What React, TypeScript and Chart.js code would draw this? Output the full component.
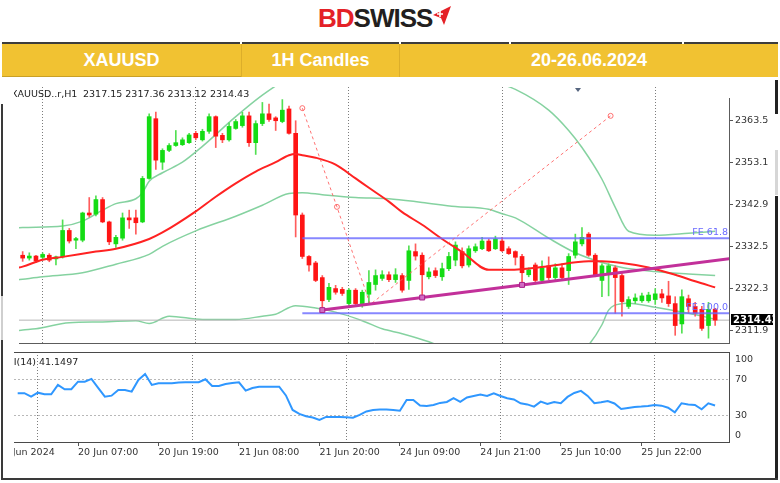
import React, { useEffect, useRef } from 'react';
import { Chart, registerables } from 'chart.js';

Chart.register(...registerables);

// ---------------- data ----------------
const SYMBOL = 'XAUUSD..r,H1';
const HEADER_CELLS = ['XAUUSD', '1H Candles', '20-26.06.2024'];

const OPEN = [2330.4,2329.7,2330.2,2329.9,2330.4,2329.5,2330.0,2336.5,2334.1,2334.1,
2340.8,2340.5,2344.1,2338.6,2333.2,2334.6,2339.6,2339.6,2338.6,2349.3,
2364.0,2353.3,2356.2,2357.4,2357.6,2358.1,2360.4,2358.8,2360.9,2364.5,
2359.9,2358.8,2361.6,2362.3,2364.7,2358.1,2362.8,2365.2,2364.2,2363.3,
2366.4,2360.4,2340.3,2330.1,2328.5,2324.9,2319.5,2322.2,2322.0,2318.5,
2321.8,2318.5,2320.8,2323.2,2324.7,2325.6,2324.4,2325.4,2324.2,2331.3,
2330.4,2325.1,2326.6,2325.1,2327.1,2329.2,2331.3,2328.0,2331.5,2332.0,
2333.9,2332.0,2333.9,2332.0,2331.3,2330.1,2325.6,2328.0,2324.2,2327.8,
2324.9,2327.3,2326.6,2330.4,2333.2,2335.6,2330.4,2324.2,2326.1,2327.3,
2325.4,2317.8,2319.2,2319.2,2319.2,2319.5,2320.9,2320.4,2318.5,2313.5,
2319.7,2317.8,2317.1,2313.1,2317.15];

const HIGH = [2331.3,2331.0,2330.4,2331.0,2330.8,2330.2,2339.1,2337.0,2334.8,2341.0,
2344.6,2345.0,2344.6,2338.8,2335.3,2340.8,2341.5,2341.5,2349.8,2365.2,
2365.6,2356.6,2357.9,2361.1,2359.3,2360.4,2360.9,2361.4,2365.2,2364.7,
2360.4,2363.0,2363.8,2365.6,2365.6,2363.5,2368.0,2367.6,2364.5,2368.7,
2367.1,2363.5,2340.8,2330.3,2328.9,2325.4,2323.5,2323.0,2322.5,2322.2,
2322.2,2321.8,2326.6,2326.8,2326.6,2326.3,2327.1,2325.9,2332.7,2333.2,
2331.0,2327.3,2327.3,2328.5,2331.1,2333.7,2332.2,2332.7,2333.2,2334.8,
2334.4,2335.1,2334.8,2332.5,2331.5,2330.6,2327.3,2328.5,2329.0,2330.0,
2328.3,2328.3,2330.8,2335.6,2337.2,2336.0,2330.8,2328.3,2328.3,2327.8,
2325.9,2320.2,2320.9,2321.1,2321.3,2322.2,2322.0,2324.0,2320.2,2321.9,
2320.6,2318.8,2317.8,2318.8,2317.36];

const LOW = [2328.9,2329.2,2328.6,2329.5,2328.8,2328.0,2329.7,2333.4,2332.0,2333.7,
2339.8,2340.1,2338.4,2333.0,2332.3,2334.1,2337.0,2335.6,2338.4,2349.1,
2351.5,2351.5,2355.9,2357.2,2357.4,2357.9,2358.8,2358.5,2360.4,2356.9,
2358.1,2358.5,2361.4,2361.9,2357.2,2355.2,2362.3,2363.3,2361.1,2363.0,
2360.2,2334.9,2329.6,2326.5,2323.9,2316.9,2319.0,2320.8,2320.5,2318.0,
2317.8,2317.6,2318.3,2321.8,2324.2,2323.9,2323.7,2321.3,2322.0,2329.2,
2320.2,2324.6,2324.9,2324.2,2326.6,2327.8,2327.3,2327.5,2331.1,2331.8,
2331.3,2331.8,2331.3,2330.6,2328.0,2323.3,2325.1,2323.3,2323.9,2324.4,
2324.4,2324.4,2323.2,2329.7,2332.7,2330.1,2325.1,2320.2,2320.4,2316.1,
2315.4,2317.3,2318.5,2318.8,2318.8,2318.3,2318.8,2317.8,2310.7,2311.2,
2316.1,2315.4,2311.9,2310.0,2313.12];

const CLOSE = [2329.7,2330.2,2329.0,2330.6,2329.2,2330.0,2336.5,2333.9,2334.5,2340.8,
2340.3,2344.1,2338.6,2333.7,2334.8,2339.6,2339.1,2338.4,2349.3,2364.5,
2353.8,2356.2,2357.4,2358.1,2358.8,2360.0,2359.3,2360.9,2364.5,2359.7,
2358.8,2362.1,2363.3,2364.7,2358.1,2362.8,2365.2,2363.8,2363.5,2366.1,
2360.4,2340.3,2330.1,2328.0,2324.2,2319.2,2322.5,2321.3,2321.0,2321.8,
2318.5,2321.3,2323.7,2325.4,2325.6,2324.4,2325.6,2321.8,2331.5,2330.2,
2325.6,2326.3,2325.4,2327.1,2330.1,2332.9,2327.8,2332.0,2332.5,2333.9,
2331.5,2334.4,2331.5,2330.8,2329.9,2326.1,2326.8,2324.2,2327.3,2324.9,
2327.3,2324.9,2330.1,2333.7,2334.8,2330.4,2325.4,2327.8,2327.8,2324.9,
2319.0,2319.5,2319.9,2320.4,2320.6,2320.9,2319.9,2318.5,2313.1,2320.2,
2317.8,2316.1,2312.4,2317.1,2314.43];

const RSI_PERIOD = 14;
const RSI14 = [55.0,55.0,51.1,55.6,53.8,53.8,64.4,59.5,59.5,68.1,
68.1,71.2,61.0,51.1,52.2,58.7,58.7,56.8,70.0,76.8,
64.4,66.3,66.3,66.3,67.2,67.4,67.4,67.4,70.8,63.2,
63.2,65.5,66.6,67.4,57.9,60.9,62.4,62.4,62.4,62.4,
52.5,36.0,31.5,28.9,27.5,24.7,28.1,28.1,28.1,27.8,
27.3,30.4,34.3,36.0,36.4,36.4,36.0,35.2,47.4,47.4,
41.1,40.6,41.7,44.0,45.1,49.3,45.1,50.2,51.9,53.4,
51.9,55.0,51.9,49.3,47.9,43.6,42.3,39.8,45.4,42.8,
45.1,43.6,50.8,55.3,57.6,51.9,43.6,44.8,46.2,43.4,
37.2,38.3,39.4,39.8,40.6,41.7,40.9,38.6,33.4,43.6,
42.3,41.7,36.8,43.6,41.1497];

// indicator lines: [bar, price]
const MA_RED = [[-1,2327.2],[0,2327.6],[3,2329.3],[6,2330.0],[11,2331.3],[14,2332.0],[19,2334.4],[21,2336.0],
[26,2341.2],[29,2344.8],[32,2348.1],[35,2351.0],[38,2353.3],[40,2355.0],[41,2355.3],[42,2355.0],[44,2354.4],
[47,2352.7],[50,2349.3],[52,2347.0],[55,2343.6],[57,2341.0],[60,2337.9],[63,2334.4],[66,2331.2],[70,2326.8],
[73,2326.8],[79,2327.7],[85,2328.9],[87,2328.9],[90,2328.5],[94,2327.4],[98,2325.6],[101,2324.0],[104,2322.5]];

const BB_UPPER = [[-1,2337.1],[0,2337.2],[6,2337.6],[9,2338.8],[12,2341.5],[14,2343.1],[17,2344.3],[18,2345.8],
[19,2348.6],[21,2350.7],[24,2353.3],[27,2357.2],[32,2364.5],[36,2369.8],[40,2374.0],[45,2377.0],[50,2378.5],
[55,2379.0],[60,2378.0],[65,2376.0],[70,2373.5],[74,2371.2],[79,2366.1],[82,2361.1],[84,2356.9],[87,2349.1],
[89,2342.2],[91,2336.3],[95,2335.3],[100,2335.8],[104,2336.3]];

const BB_MIDDLE = [[-1,2324.3],[0,2324.5],[3,2325.1],[9,2326.1],[14,2328.2],[19,2330.6],[21,2332.6],[26,2336.4],
[32,2340.0],[36,2342.7],[40,2345.6],[42,2345.8],[45,2345.3],[50,2344.6],[55,2344.3],[60,2343.4],[65,2342.4],
[70,2341.7],[72,2340.6],[74,2339.6],[79,2334.6],[83,2331.0],[87,2328.6],[90,2327.4],[95,2326.4],[100,2325.8],[104,2325.4]];

const BB_LOWER = [[-1,2311.8],[0,2312.0],[2,2312.3],[7,2313.8],[12,2314.0],[17,2314.3],[19,2313.6],[22,2315.4],
[27,2314.6],[32,2314.6],[36,2315.4],[38,2315.9],[41,2318.0],[44,2317.4],[47,2316.4],[51,2314.3],[54,2312.3],
[57,2311.1],[61,2309.1],[65,2306.5],[70,2304.8],[76,2304.3],[81,2305.5],[84,2306.8],[85,2308.3],[87,2313.3],
[88,2316.9],[90,2318.5],[91,2318.6],[95,2317.6],[100,2316.1],[104,2314.7]];

const TRENDLINE = [[45,2316.9],[60,2320.0],[75,2323.1],[107,2329.7]];
const FIB_EXPANSION = [[42,2366.6],[47.2,2342.3],[52.2,2318.3],[88.3,2364.7]];
const FE_FROM_BAR = 42;
const FE_LEVELS: [string, number][] = [['FE 61.8', 2334.6], ['FE 100.0', 2316.1]];

const PRICE_TICKS = [2363.5, 2353.1, 2342.9, 2332.5, 2322.3, 2311.9];
const RSI_LEVELS = [70, 30];
const RSI_LABELS = [100, 70, 30, 0];
const TIME_TICK_BARS = [-3, 9, 21, 33, 45, 57, 69, 81, 93];
const TIME_TICK_LABELS = ['19 Jun 2024', '20 Jun 07:00', '20 Jun 19:00', '21 Jun 08:00', '21 Jun 20:00',
  '24 Jun 09:00', '24 Jun 21:00', '25 Jun 10:00', '25 Jun 22:00'];
const GRID_BARS = [3, 26, 49, 72, 95];
const SHIFT_MARK_BAR = 83.4;

// view ranges
const X_MIN = -0.55;
const X_MAX = 106.08;
const PRICE_MIN = 2308.56;
const PRICE_MAX = 2371.8;
const RSI_MIN = -0.3;
const RSI_MAX = 101.7;

// ---------------- styles ----------------
const FAMILY = '"DejaVu Sans", Verdana, sans-serif';
const FONT = `9.5px ${FAMILY}`;
const BULL = '#14DC14';
const BEAR = '#FF1414';
const BULL_WICK = '#52E052';
const BEAR_WICK = '#FF5C5C';
const BB_COLOR = 'rgba(120,205,150,0.9)';

const pts = (arr: number[][]) => arr.map(([x, y]) => ({ x, y }));

const mainDecor = {
  id: 'mainDecor',
  afterDraw(chart: any) {
    const { ctx, chartArea: a } = chart;
    const ys = chart.scales.y;
    const xs = chart.scales.x;
    const last = CLOSE.length - 1;
    ctx.save();
    ctx.strokeStyle = '#5c5c5c';
    ctx.lineWidth = 1;
    ctx.beginPath();
    ctx.moveTo(a.right + 0.5, a.top + 11);
    ctx.lineTo(a.right + 0.5, a.bottom);
    ctx.moveTo(a.left, a.bottom - 0.5);
    ctx.lineTo(a.right + 1, a.bottom - 0.5);
    ctx.stroke();

    const mx = xs.getPixelForValue(SHIFT_MARK_BAR);
    ctx.fillStyle = '#56657f';
    ctx.beginPath();
    ctx.moveTo(mx - 3, a.top + 1);
    ctx.lineTo(mx + 3, a.top + 1);
    ctx.lineTo(mx, a.top + 5);
    ctx.closePath();
    ctx.fill();

    ctx.font = FONT;
    ctx.textAlign = 'right';
    ctx.textBaseline = 'bottom';
    ctx.fillStyle = '#6a6aff';
    FE_LEVELS.forEach(([name, p]) => ctx.fillText(name, a.right - 1, ys.getPixelForValue(p) - 1));

    ctx.fillStyle = '#222';
    ctx.textAlign = 'left';
    ctx.textBaseline = 'middle';
    ctx.fillText(SYMBOL, -3, a.top + 8);
    ctx.fillText([OPEN[last], HIGH[last], LOW[last], CLOSE[last]].map(v => v.toFixed(2)).join(' '), 69, a.top + 8);

    const py = Math.round(ys.getPixelForValue(CLOSE[last]));
    ctx.fillStyle = '#000';
    ctx.fillRect(a.right + 2, py - 6, chart.width - a.right - 2, 11);
    ctx.fillStyle = '#fff';
    ctx.font = `bold 10px ${FAMILY}`;
    ctx.fillText(CLOSE[last].toFixed(2), a.right + 4, py);
    ctx.restore();
  },
};

const rsiDecor = {
  id: 'rsiDecor',
  afterDraw(chart: any) {
    const { ctx, chartArea: a } = chart;
    const ys = chart.scales.y;
    ctx.save();
    ctx.strokeStyle = '#4a4a4a';
    ctx.lineWidth = 1;
    ctx.beginPath();
    ctx.moveTo(a.left, a.top + 0.5);
    ctx.lineTo(a.right + 1, a.top + 0.5);
    ctx.moveTo(a.right + 0.5, a.top);
    ctx.lineTo(a.right + 0.5, a.bottom + 1);
    ctx.moveTo(a.left, a.bottom + 0.5);
    ctx.lineTo(a.right + 1, a.bottom + 0.5);
    ctx.stroke();
    ctx.font = FONT;
    ctx.fillStyle = '#333';
    ctx.textAlign = 'left';
    ctx.textBaseline = 'middle';
    RSI_LABELS.forEach(v => {
      const p = Math.min(Math.max(ys.getPixelForValue(v), a.top + 8), a.bottom - 6);
      ctx.fillText(String(v), a.right + 6, p);
    });
    ctx.fillStyle = '#222';
    ctx.fillText(`RSI(${RSI_PERIOD}) ${RSI14[RSI14.length - 1].toFixed(4)}`, -13, a.top + 11);
    ctx.restore();
  },
};

function mainConfig(): any {
  const idx = OPEN.map((_, i) => i);
  const up = idx.map(i => CLOSE[i] >= OPEN[i]);
  const last = CLOSE.length - 1;
  const line = (data: any[], color: string, width: number, order: number, extra: any = {}) => ({
    type: 'line', data, borderColor: color, borderWidth: width, pointRadius: 0,
    tension: 0, order, xAxisID: 'x', yAxisID: 'y', ...extra,
  });
  return {
    type: 'bar',
    data: {
      datasets: [
        line(pts(TRENDLINE), '#C2309A', 3, 1, {
          pointRadius: [3.5, 3.5, 3.5, 0], pointStyle: 'rect',
          pointBackgroundColor: '#D26CC4', pointBorderColor: '#A8208A', pointBorderWidth: 1,
        }),
        line(pts(FIB_EXPANSION), 'rgba(255,90,90,0.85)', 1, 2, {
          borderDash: [3, 3], pointRadius: [2.5, 2.5, 0, 2.5],
          pointBackgroundColor: 'rgba(255,255,255,0)', pointBorderColor: 'rgba(255,90,90,0.85)', pointBorderWidth: 1,
        }),
        ...FE_LEVELS.map(([, p]) => line([{ x: FE_FROM_BAR, y: p }, { x: X_MAX + 1, y: p }], 'rgba(105,105,255,0.8)', 2, 2)),
        line(pts(MA_RED), '#FF2222', 2, 3, { cubicInterpolationMode: 'monotone' }),
        {
          type: 'bar', data: idx.map(i => ({ x: i, y: [OPEN[i], CLOSE[i]] })),
          backgroundColor: up.map(u => (u ? BULL : BEAR)), barThickness: 4, grouped: false,
          minBarLength: 1, borderWidth: 0, order: 4, xAxisID: 'x', yAxisID: 'y',
        },
        {
          type: 'bar', data: idx.map(i => ({ x: i, y: [LOW[i], HIGH[i]] })),
          backgroundColor: up.map(u => (u ? BULL_WICK : BEAR_WICK)), barThickness: 1, grouped: false,
          borderWidth: 0, order: 5, xAxisID: 'x', yAxisID: 'y',
        },
        line([{ x: X_MIN - 1, y: CLOSE[last] }, { x: X_MAX + 1, y: CLOSE[last] }], '#b4b4b4', 1, 6),
        line(pts(BB_UPPER), BB_COLOR, 1.5, 7, { cubicInterpolationMode: 'monotone' }),
        line(pts(BB_MIDDLE), BB_COLOR, 1.5, 7, { cubicInterpolationMode: 'monotone' }),
        line(pts(BB_LOWER), BB_COLOR, 1.5, 7, { cubicInterpolationMode: 'monotone' }),
      ],
    },
    options: {
      animation: false, responsive: false, maintainAspectRatio: false, devicePixelRatio: 1,
      layout: { padding: 0 },
      plugins: { legend: { display: false }, tooltip: { enabled: false } },
      scales: {
        x: {
          type: 'linear', axis: 'x', min: X_MIN, max: X_MAX, offset: false, position: 'bottom',
          afterBuildTicks: (s: any) => { s.ticks = GRID_BARS.map(v => ({ value: v })); },
          ticks: { display: false },
          grid: { color: '#7c7c7c', lineWidth: 1, drawTicks: false, offset: false },
          border: { display: false, dash: [1, 2] },
          afterFit: (s: any) => { s.height = 0; s.paddingLeft = 0; s.paddingRight = 0; },
        },
        y: {
          type: 'linear', position: 'right', min: PRICE_MIN, max: PRICE_MAX, beginAtZero: false,
          afterBuildTicks: (s: any) => { s.ticks = PRICE_TICKS.map(v => ({ value: v })); },
          ticks: {
            autoSkip: false, padding: 2, color: '#333', font: { family: FAMILY, size: 9.5 },
            callback: (v: any) => Number(v).toFixed(1),
          },
          grid: { drawOnChartArea: false, drawTicks: true, tickLength: 4, tickColor: '#555', offset: false },
          border: { display: false },
          afterFit: (s: any) => { s.width = 44; s.paddingTop = 0; s.paddingBottom = 0; },
        },
      },
    },
    plugins: [mainDecor],
  };
}

function rsiConfig(): any {
  return {
    type: 'line',
    data: {
      datasets: [{
        data: RSI14.map((v, i) => ({ x: i, y: v })), borderColor: '#2F97FF', borderWidth: 2,
        pointRadius: 0, tension: 0, xAxisID: 'x', yAxisID: 'y',
      }],
    },
    options: {
      animation: false, responsive: false, maintainAspectRatio: false, devicePixelRatio: 1,
      layout: { padding: 0 },
      plugins: { legend: { display: false }, tooltip: { enabled: false } },
      scales: {
        x: {
          type: 'linear', axis: 'x', min: X_MIN, max: X_MAX, offset: false, position: 'bottom',
          afterBuildTicks: (s: any) => { s.ticks = TIME_TICK_BARS.map(v => ({ value: v })); },
          ticks: {
            autoSkip: false, maxRotation: 0, minRotation: 0, align: 'start', padding: 1,
            color: '#333', font: { family: FAMILY, size: 9.5 },
            callback: (_v: any, i: number) => TIME_TICK_LABELS[i],
          },
          grid: { drawOnChartArea: false, drawTicks: true, tickLength: 4, tickColor: '#555', offset: false },
          border: { display: false },
          afterFit: (s: any) => { s.height = 18; s.paddingLeft = 0; s.paddingRight = 0; },
        },
        xg: {
          type: 'linear', axis: 'x', min: X_MIN, max: X_MAX, offset: false, position: 'bottom',
          afterBuildTicks: (s: any) => { s.ticks = GRID_BARS.map(v => ({ value: v })); },
          ticks: { display: false },
          grid: { color: '#7c7c7c', drawTicks: false, offset: false },
          border: { display: false, dash: [1, 2] },
          afterFit: (s: any) => { s.height = 0; s.paddingLeft = 0; s.paddingRight = 0; },
        },
        y: {
          type: 'linear', position: 'right', min: RSI_MIN, max: RSI_MAX,
          afterBuildTicks: (s: any) => { s.ticks = RSI_LEVELS.map(v => ({ value: v })); },
          ticks: { display: false },
          grid: { color: '#b8b8b8', drawTicks: false },
          border: { display: false, dash: [2, 2] },
          afterFit: (s: any) => { s.width = 44; s.paddingTop = 0; s.paddingBottom = 0; },
        },
      },
    },
    plugins: [rsiDecor],
  };
}

const seg = (left: number, top: number, width: number, height: number, bg: string) => (
  <div style={{ position: 'absolute', left, top, width, height, background: bg }} />
);

export default function App() {
  const mainRef = useRef<HTMLCanvasElement>(null);
  const rsiRef = useRef<HTMLCanvasElement>(null);

  useEffect(() => {
    const main = new Chart(mainRef.current as HTMLCanvasElement, mainConfig());
    const rsi = new Chart(rsiRef.current as HTMLCanvasElement, rsiConfig());
    return () => { main.destroy(); rsi.destroy(); };
  }, []);

  const cellStyle = (left: number, width: number): React.CSSProperties => ({
    position: 'absolute', left, top: 44, width, height: 33, lineHeight: '33px', textAlign: 'center',
    color: '#fff', fontWeight: 700, fontSize: 18, fontFamily: '"Liberation Sans", Arial, sans-serif',
  });

  return (
    <div style={{ position: 'absolute', left: 0, top: 0, width: 780, height: 483, background: '#fff', overflow: 'hidden' }}>
      {/* logo */}
      <div style={{ position: 'absolute', left: 318, top: 5, height: 26, lineHeight: '26px', whiteSpace: 'nowrap',
        fontFamily: '"Liberation Sans", Arial, sans-serif', fontWeight: 700, fontSize: 26, letterSpacing: -1 }}>
        <span style={{ color: '#E42127' }}>BD</span>
        <span style={{ color: '#231F20' }}>SWISS</span>
      </div>
      <svg style={{ position: 'absolute', left: 432, top: 5 }} width="20" height="22" viewBox="0 0 20 22">
        <polygon points="1,10 19,1 12,20 9,13" fill="#E42127" />
        <path d="M8 6 V12 M5 9 H11" stroke="#fff" strokeWidth="1.6" />
      </svg>

      {/* header bar */}
      {seg(2, 42, 238, 2, '#3c3c3c')}
      {seg(242, 42, 157, 2, '#3c3c3c')}
      {seg(401, 42, 108, 2, '#3c3c3c')}
      {seg(511, 42, 171, 2, '#3c3c3c')}
      {seg(684, 42, 94, 2, '#3c3c3c')}
      {seg(2, 44, 776, 33, '#F1C232')}
      {seg(241, 44, 1, 33, '#DCAE2A')}
      {seg(399, 44, 1, 33, '#DCAE2A')}
      {seg(2, 76, 239, 1, '#C9A026')}
      <div style={cellStyle(2, 239)}>{HEADER_CELLS[0]}</div>
      <div style={cellStyle(242, 157)}>{HEADER_CELLS[1]}</div>
      <div style={cellStyle(400, 378)}>{HEADER_CELLS[2]}</div>

      {/* charts */}
      <canvas ref={mainRef} width={759} height={267}
        style={{ position: 'absolute', left: 14, top: 82, width: 759, height: 267 }} />
      <canvas ref={rsiRef} width={759} height={108}
        style={{ position: 'absolute', left: 14, top: 352, width: 759, height: 108 }} />

      {/* outer frame */}
      {seg(1, 104, 2, 192, '#3a3a3a')}
      {seg(1, 296, 2, 44, '#cfcfcf')}
      {seg(1, 340, 2, 138, '#3a3a3a')}
      {seg(775, 80, 3, 34, '#222')}
      {seg(775, 150, 3, 45, '#d6d6d6')}
      {seg(775, 196, 3, 282, '#222')}
      {seg(1, 478, 777, 2, '#3a3a3a')}
    </div>
  );
}
